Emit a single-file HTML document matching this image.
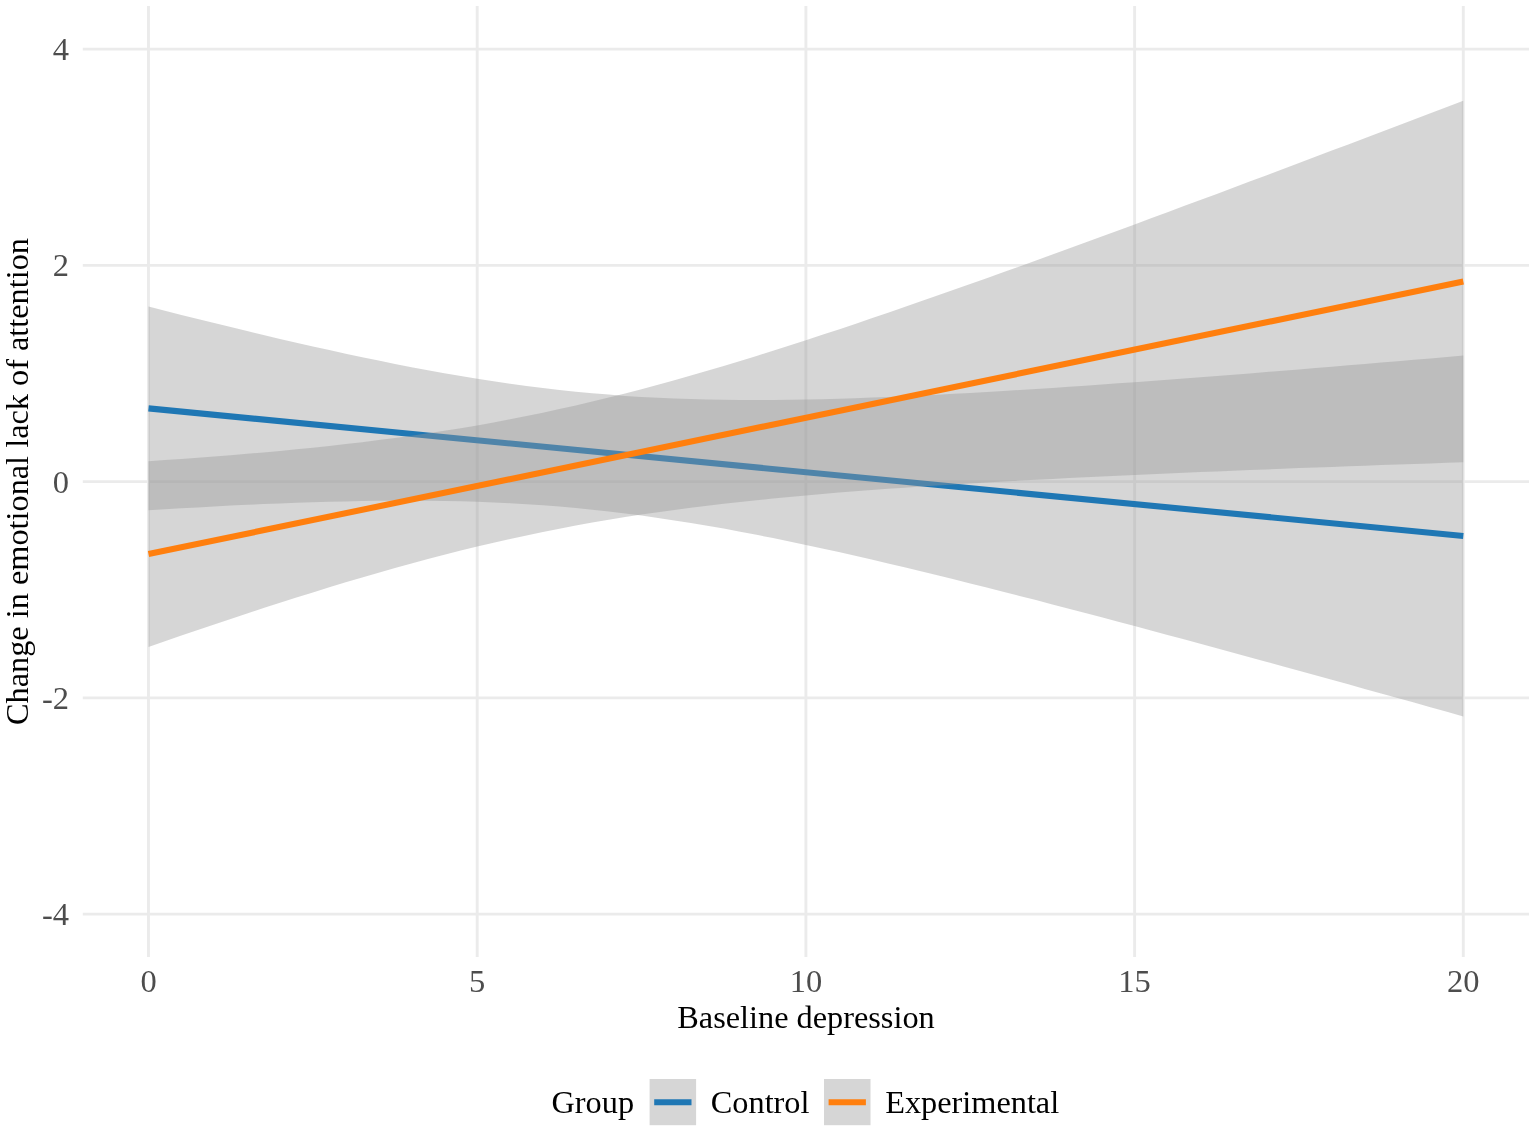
<!DOCTYPE html>
<html lang="en"><head><meta charset="utf-8"><title>Change in emotional lack of attention by baseline depression</title>
<style>
html,body{margin:0;padding:0;background:#fff;}
body{width:1535px;height:1131px;position:relative;overflow:hidden;font-family:"Liberation Serif",serif;}
</style></head><body>
<svg width="1535" height="1131" viewBox="0 0 1535 1131" style="display:block;position:absolute;left:0;top:0">
<rect width="1535" height="1131" fill="#fff"/>
<g stroke="#ebebeb" stroke-width="2.9" fill="none">
<line x1="82.8" x2="1529.0" y1="49.1" y2="49.1"/>
<line x1="82.8" x2="1529.0" y1="265.4" y2="265.4"/>
<line x1="82.8" x2="1529.0" y1="481.6" y2="481.6"/>
<line x1="82.8" x2="1529.0" y1="697.9" y2="697.9"/>
<line x1="82.8" x2="1529.0" y1="914.1" y2="914.1"/>
<line y1="5.9" y2="956.9" x1="148.5" x2="148.5"/>
<line y1="5.9" y2="956.9" x1="477.2" x2="477.2"/>
<line y1="5.9" y2="956.9" x1="805.9" x2="805.9"/>
<line y1="5.9" y2="956.9" x1="1134.6" x2="1134.6"/>
<line y1="5.9" y2="956.9" x1="1463.3" x2="1463.3"/>
</g>
<path d="M148.5,306.6 L164.9,310.7 L181.4,314.9 L197.8,319.0 L214.2,323.1 L230.7,327.1 L247.1,331.1 L263.5,335.0 L280.0,338.9 L296.4,342.7 L312.9,346.5 L329.3,350.1 L345.7,353.7 L362.2,357.2 L378.6,360.6 L395.0,364.0 L411.5,367.2 L427.9,370.3 L444.3,373.2 L460.8,376.1 L477.2,378.8 L493.6,381.3 L510.1,383.7 L526.5,386.0 L542.9,388.1 L559.4,390.0 L575.8,391.7 L592.2,393.3 L608.7,394.6 L625.1,395.9 L641.5,396.9 L658.0,397.8 L674.4,398.5 L690.9,399.1 L707.3,399.5 L723.7,399.8 L740.2,400.0 L756.6,400.0 L773.0,399.9 L789.5,399.8 L805.9,399.5 L822.3,399.2 L838.8,398.7 L855.2,398.2 L871.6,397.6 L888.1,397.0 L904.5,396.3 L920.9,395.5 L937.4,394.7 L953.8,393.8 L970.2,392.9 L986.7,392.0 L1003.1,391.0 L1019.6,390.0 L1036.0,389.0 L1052.4,387.9 L1068.9,386.8 L1085.3,385.7 L1101.7,384.5 L1118.2,383.3 L1134.6,382.2 L1151.0,380.9 L1167.5,379.7 L1183.9,378.5 L1200.3,377.2 L1216.8,375.9 L1233.2,374.7 L1249.6,373.4 L1266.1,372.0 L1282.5,370.7 L1299.0,369.4 L1315.4,368.0 L1331.8,366.7 L1348.3,365.3 L1364.7,364.0 L1381.1,362.6 L1397.6,361.2 L1414.0,359.8 L1430.4,358.4 L1446.9,357.0 L1463.3,355.6 L1463.3,716.4 L1446.9,711.8 L1430.4,707.2 L1414.0,702.6 L1397.6,698.0 L1381.1,693.5 L1364.7,688.9 L1348.3,684.3 L1331.8,679.8 L1315.4,675.2 L1299.0,670.7 L1282.5,666.2 L1266.1,661.7 L1249.6,657.2 L1233.2,652.7 L1216.8,648.2 L1200.3,643.7 L1183.9,639.3 L1167.5,634.9 L1151.0,630.4 L1134.6,626.0 L1118.2,621.7 L1101.7,617.3 L1085.3,613.0 L1068.9,608.7 L1052.4,604.4 L1036.0,600.1 L1019.6,595.9 L1003.1,591.7 L986.7,587.5 L970.2,583.4 L953.8,579.3 L937.4,575.2 L920.9,571.2 L904.5,567.3 L888.1,563.4 L871.6,559.5 L855.2,555.8 L838.8,552.1 L822.3,548.4 L805.9,544.9 L789.5,541.4 L773.0,538.1 L756.6,534.8 L740.2,531.7 L723.7,528.6 L707.3,525.8 L690.9,523.0 L674.4,520.4 L658.0,517.9 L641.5,515.6 L625.1,513.5 L608.7,511.5 L592.2,509.7 L575.8,508.0 L559.4,506.6 L542.9,505.3 L526.5,504.2 L510.1,503.2 L493.6,502.5 L477.2,501.8 L460.8,501.3 L444.3,501.0 L427.9,500.8 L411.5,500.7 L395.0,500.7 L378.6,500.8 L362.2,501.0 L345.7,501.4 L329.3,501.8 L312.9,502.2 L296.4,502.8 L280.0,503.4 L263.5,504.1 L247.1,504.8 L230.7,505.6 L214.2,506.5 L197.8,507.4 L181.4,508.3 L164.9,509.2 L148.5,510.2Z" fill="#999999" fill-opacity="0.4"/>
<line x1="148.5" y1="408.4" x2="1463.3" y2="536.0" stroke="#1f77b4" stroke-width="6.1"/>
<path d="M148.5,461.2 L164.9,460.1 L181.4,458.9 L197.8,457.7 L214.2,456.5 L230.7,455.2 L247.1,453.8 L263.5,452.4 L280.0,450.9 L296.4,449.3 L312.9,447.7 L329.3,445.9 L345.7,444.1 L362.2,442.2 L378.6,440.1 L395.0,438.0 L411.5,435.7 L427.9,433.3 L444.3,430.8 L460.8,428.2 L477.2,425.4 L493.6,422.4 L510.1,419.3 L526.5,416.1 L542.9,412.7 L559.4,409.1 L575.8,405.4 L592.2,401.6 L608.7,397.6 L625.1,393.4 L641.5,389.2 L658.0,384.7 L674.4,380.2 L690.9,375.6 L707.3,370.8 L723.7,365.9 L740.2,360.9 L756.6,355.9 L773.0,350.7 L789.5,345.5 L805.9,340.2 L822.3,334.8 L838.8,329.4 L855.2,323.9 L871.6,318.3 L888.1,312.7 L904.5,307.0 L920.9,301.3 L937.4,295.6 L953.8,289.8 L970.2,284.0 L986.7,278.2 L1003.1,272.3 L1019.6,266.4 L1036.0,260.4 L1052.4,254.5 L1068.9,248.5 L1085.3,242.5 L1101.7,236.5 L1118.2,230.4 L1134.6,224.4 L1151.0,218.3 L1167.5,212.2 L1183.9,206.1 L1200.3,200.0 L1216.8,193.9 L1233.2,187.7 L1249.6,181.6 L1266.1,175.4 L1282.5,169.2 L1299.0,163.0 L1315.4,156.8 L1331.8,150.6 L1348.3,144.4 L1364.7,138.2 L1381.1,132.0 L1397.6,125.7 L1414.0,119.5 L1430.4,113.3 L1446.9,107.0 L1463.3,100.7 L1463.3,462.3 L1446.9,462.8 L1430.4,463.4 L1414.0,463.9 L1397.6,464.5 L1381.1,465.1 L1364.7,465.7 L1348.3,466.3 L1331.8,466.9 L1315.4,467.5 L1299.0,468.1 L1282.5,468.7 L1266.1,469.4 L1249.6,470.0 L1233.2,470.7 L1216.8,471.4 L1200.3,472.0 L1183.9,472.7 L1167.5,473.4 L1151.0,474.2 L1134.6,474.9 L1118.2,475.7 L1101.7,476.4 L1085.3,477.2 L1068.9,478.1 L1052.4,478.9 L1036.0,479.7 L1019.6,480.6 L1003.1,481.5 L986.7,482.5 L970.2,483.4 L953.8,484.4 L937.4,485.5 L920.9,486.6 L904.5,487.7 L888.1,488.8 L871.6,490.0 L855.2,491.3 L838.8,492.6 L822.3,494.0 L805.9,495.4 L789.5,496.9 L773.0,498.5 L756.6,500.2 L740.2,501.9 L723.7,503.8 L707.3,505.7 L690.9,507.7 L674.4,509.9 L658.0,512.2 L641.5,514.6 L625.1,517.1 L608.7,519.8 L592.2,522.6 L575.8,525.6 L559.4,528.7 L542.9,532.0 L526.5,535.4 L510.1,538.9 L493.6,542.7 L477.2,546.5 L460.8,550.6 L444.3,554.7 L427.9,559.0 L411.5,563.4 L395.0,568.0 L378.6,572.7 L362.2,577.4 L345.7,582.3 L329.3,587.3 L312.9,592.4 L296.4,597.6 L280.0,602.8 L263.5,608.1 L247.1,613.5 L230.7,619.0 L214.2,624.5 L197.8,630.0 L181.4,635.6 L164.9,641.3 L148.5,647.0Z" fill="#999999" fill-opacity="0.4"/>
<line x1="148.5" y1="554.1" x2="1463.3" y2="281.5" stroke="#ff7f0e" stroke-width="6.1"/>
<g font-family="Liberation Serif, serif" font-size="32.5" fill="#4d4d4d">
<text x="69" y="60.1" text-anchor="end">4</text>
<text x="69" y="276.4" text-anchor="end">2</text>
<text x="69" y="492.6" text-anchor="end">0</text>
<text x="69" y="708.9" text-anchor="end">-2</text>
<text x="69" y="925.1" text-anchor="end">-4</text>
<text x="148.5" y="991.5" text-anchor="middle">0</text>
<text x="477.2" y="991.5" text-anchor="middle">5</text>
<text x="805.9" y="991.5" text-anchor="middle">10</text>
<text x="1134.6" y="991.5" text-anchor="middle">15</text>
<text x="1463.3" y="991.5" text-anchor="middle">20</text>
</g>
<g font-family="Liberation Serif, serif" font-size="32.3" fill="#000">
<text x="806" y="1027.5" text-anchor="middle">Baseline depression</text>
<text transform="translate(28,481.5) rotate(-90)" text-anchor="middle">Change in emotional lack of attention</text>
<text x="551.5" y="1113">Group</text>
<text x="710.8" y="1113">Control</text>
<text x="885.2" y="1113">Experimental</text>
</g>
<rect x="649.6" y="1079" width="46.5" height="46.2" fill="#d6d6d6"/>
<line x1="654.2" x2="691.5" y1="1102.2" y2="1102.2" stroke="#1f77b4" stroke-width="6.1"/>
<rect x="824.0" y="1079" width="46.5" height="46.2" fill="#d6d6d6"/>
<line x1="828.6" x2="865.9" y1="1102.2" y2="1102.2" stroke="#ff7f0e" stroke-width="6.1"/>
</svg>
</body></html>
